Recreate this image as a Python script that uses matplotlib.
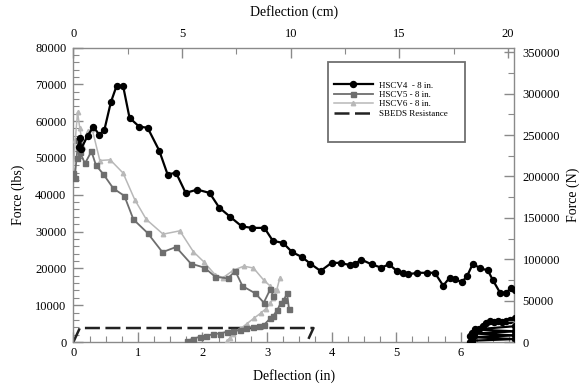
import matplotlib
matplotlib.use("Agg")
import matplotlib.pyplot as plt
from matplotlib.patches import Rectangle
from matplotlib.ticker import MultipleLocator

plt.rcParams['font.family'] = ['Liberation Serif', 'DejaVu Serif']

# ---------------- data ----------------
hscv4_x = [0.08, 0.10, 0.12, 0.22, 0.31, 0.40, 0.48, 0.58, 0.67, 0.77, 0.87, 1.02, 1.15, 1.33,
           1.46, 1.59, 1.74, 1.92, 2.11, 2.26, 2.43, 2.61, 2.77, 2.96, 3.09, 3.25, 3.39, 3.54,
           3.67, 3.83, 4.00, 4.14, 4.28, 4.37, 4.46, 4.62, 4.77, 4.89, 5.02, 5.10, 5.19, 5.33,
           5.48, 5.60, 5.73, 5.83, 5.91, 6.02, 6.10, 6.19, 6.30, 6.42, 6.50, 6.61, 6.70, 6.78, 6.84]
hscv4_y = [53000, 55500, 52500, 56000, 58500, 56300, 57600, 65100, 69600, 69600, 60900, 58500,
           58200, 52000, 45500, 46000, 40500, 41400, 40500, 36500, 34000, 31400, 31000, 31000,
           27500, 26900, 24400, 23100, 21300, 19300, 21500, 21500, 20900, 21300, 22400, 21100,
           20200, 21100, 19200, 18800, 18400, 18800, 18800, 18800, 15300, 17500, 17000, 16300,
           17900, 21300, 20000, 19500, 16800, 13400, 13400, 14600, 14100]
hscv4_rl_x = [6.14, 6.15, 6.18, 6.22, 6.28, 6.34, 6.40, 6.46, 6.52, 6.58, 6.64, 6.70, 6.76, 6.84,
              6.84, 6.22, 6.84, 6.21, 6.84, 6.19, 6.84, 6.17]
hscv4_rl_y = [0, 1500, 2500, 3000, 3500, 4300, 5200, 5600, 5400, 5800, 5300, 5700, 5900, 6400,
              4300, 3400, 2900, 2300, 1800, 1300, 800, 350]

hscv5_x = [0.0, 0.02, 0.05, 0.075, 0.10, 0.18, 0.28, 0.35, 0.46, 0.62, 0.79, 0.93, 1.15, 1.38,
           1.59, 1.82, 2.03, 2.20, 2.39, 2.51, 2.62, 2.82, 2.95, 3.05, 3.10]
hscv5_y = [46000, 44500, 50000, 55000, 51600, 48500, 51800, 48000, 45700, 41700, 39700, 33300,
           29600, 24400, 25800, 21300, 20200, 17700, 17300, 19200, 15200, 13200, 10700, 14300, 12500]
hscv5_rl_x = [1.76, 1.85, 1.96, 2.06, 2.17, 2.27, 2.38, 2.48, 2.58, 2.68, 2.79, 2.88, 2.95, 3.05,
              3.10, 3.16, 3.21, 3.26, 3.31, 3.34]
hscv5_rl_y = [300, 900, 1400, 1600, 2200, 2300, 2800, 3000, 3300, 3700, 4100, 4300, 4600, 6400,
              7200, 8700, 10500, 11400, 13200, 9100]

hscv6_x = [0.0, 0.03, 0.065, 0.10, 0.15, 0.23, 0.29, 0.41, 0.57, 0.77, 0.95, 1.13, 1.39, 1.65,
           1.86, 2.02, 2.20, 2.32, 2.48, 2.64, 2.79, 2.95, 3.05, 3.12]
hscv6_y = [47000, 55000, 62400, 58000, 53000, 57400, 57900, 49300, 49500, 45900, 38700, 33300,
           29300, 30200, 24500, 21800, 18200, 17500, 19500, 20600, 20100, 16800, 15200, 14000]
hscv6_rl_x = [2.38, 2.43, 2.48, 2.58, 2.69, 2.80, 2.90, 2.98, 3.05, 3.10, 3.15, 3.20]
hscv6_rl_y = [350, 1200, 2300, 3500, 5000, 6500, 7800, 9000, 10500, 12000, 14100, 17500]

sbeds_x = [0.0, 0.10, 3.72, 3.62]
sbeds_y = [0, 3800, 3800, 0]

labels = ['HSCV4  - 8 in.', 'HSCV5 - 8 in.', 'HSCV6 - 8 in.', 'SBEDS Resistance']

LBS_TO_N = 4.44822
X_MAX_IN = 6.83
X_MAX_CM = 20.28
Y_MAX = 80000

# ---------------- figure ----------------
fig = plt.figure(figsize=(5.87, 3.91), dpi=100)
ax = fig.add_axes([0.125, 0.1253, 0.751, 0.7532])

c4, c5, c6 = 'black', '#6e6e6e', '#b8b8b8'

l4, = ax.plot(hscv4_x, hscv4_y, color=c4, lw=1.6, marker='o', ms=4.3, label=labels[0], zorder=5)
ax.plot(hscv4_rl_x, hscv4_rl_y, color=c4, lw=1.6, marker='o', ms=4.3, zorder=5)
l5, = ax.plot(hscv5_x, hscv5_y, color=c5, lw=1.3, marker='s', ms=3.6, label=labels[1], zorder=4)
ax.plot(hscv5_rl_x, hscv5_rl_y, color=c5, lw=1.3, marker='s', ms=3.6, zorder=4)
l6, = ax.plot(hscv6_x, hscv6_y, color=c6, lw=1.1, marker='^', ms=3.2, label=labels[2], zorder=3)
ax.plot(hscv6_rl_x, hscv6_rl_y, color=c6, lw=1.1, marker='^', ms=3.2, zorder=3)
ls, = ax.plot(sbeds_x, sbeds_y, color='#222222', lw=1.8, label=labels[3], zorder=2)
ls.set_dashes([6, 2.2])

ax.set_xlim(0, X_MAX_IN)
ax.set_ylim(0, Y_MAX)
ax.xaxis.set_major_locator(MultipleLocator(1))
ax.xaxis.set_minor_locator(MultipleLocator(0.25))
ax.yaxis.set_major_locator(MultipleLocator(10000))
ax.yaxis.set_minor_locator(MultipleLocator(2000))
ax.set_xlabel('Deflection (in)', fontsize=10, labelpad=7)
ax.set_ylabel('Force (lbs)', fontsize=10, labelpad=7)

spine_col = '#8a8a8a'
for s in ax.spines.values():
    s.set_color(spine_col)
    s.set_linewidth(1.0)

ax.tick_params(which='both', direction='in', colors=spine_col, labelcolor='black',
               labelsize=9, top=False, right=False)
ax.tick_params(axis='y', pad=5)
ax.tick_params(which='major', length=7, width=1)
ax.tick_params(which='minor', length=4, width=0.8)

# top axis (cm)
axt = ax.twiny()
axt.set_xlim(0, X_MAX_CM)
axt.xaxis.set_major_locator(MultipleLocator(5))
axt.xaxis.set_minor_locator(MultipleLocator(2.5))
axt.set_xlabel('Deflection (cm)', fontsize=10, labelpad=9)
axt.tick_params(which='both', direction='in', colors=spine_col, labelcolor='black', labelsize=9,
                pad=5.5)
axt.tick_params(which='major', length=7, width=1)
axt.tick_params(which='minor', length=4, width=0.8)
for s in axt.spines.values():
    s.set_visible(False)

# right axis (N)
axr = ax.twinx()
axr.set_ylim(0, Y_MAX * LBS_TO_N)
axr.yaxis.set_major_locator(MultipleLocator(50000))
axr.yaxis.set_minor_locator(MultipleLocator(25000))
axr.set_ylabel('Force (N)', fontsize=10, labelpad=5)
axr.tick_params(which='both', direction='in', colors=spine_col, labelcolor='black', labelsize=9,
                pad=6)
axr.tick_params(which='major', length=7, width=1)
axr.tick_params(which='minor', length=4, width=0.8)
for s in axr.spines.values():
    s.set_visible(False)

# legend with a separately drawn frame
frame = Rectangle((0.578, 0.68), 0.311, 0.272, transform=ax.transAxes,
                  facecolor='white', edgecolor='#707070', lw=1.3, zorder=9)
ax.add_patch(frame)
leg = ax.legend(handles=[l4, l5, l6, ls], loc='upper left', bbox_to_anchor=(0.575, 0.91),
                frameon=False, fontsize=6.5, handlelength=4.3, handletextpad=0.7,
                labelspacing=0.12, borderpad=0.3)
leg.set_zorder(10)

fig.savefig('out.png', dpi=100)
